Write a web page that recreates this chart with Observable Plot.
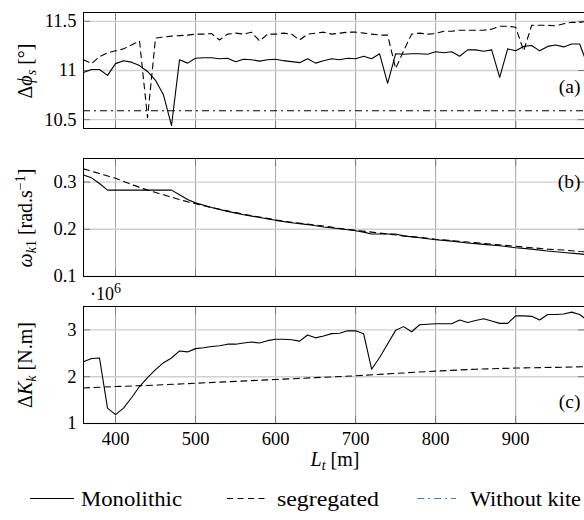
<!DOCTYPE html>
<html><head><meta charset="utf-8">
<script src="https://cdn.jsdelivr.net/npm/d3@7"></script>
<script src="https://cdn.jsdelivr.net/npm/@observablehq/plot@0.6"></script>
<style>
html,body{margin:0;padding:0;background:#fff;overflow:hidden;}
#chart{position:relative;width:584px;height:520px;overflow:hidden;font-family:'Liberation Serif',serif;}
#chart svg{position:absolute;left:0;}
#chart svg, #chart svg text, #chart svg tspan{font-family:'Liberation Serif',serif !important;}
</style></head><body><div id="chart"></div>
<script>
// ---------- data ----------
const L = [360,370,380,390,400,410,420,430,440,450,
           460,470,480,490,500,510,520,530,540,550,
           560,570,580,590,600,610,620,630,640,650,
           660,670,680,690,700,710,720,730,740,750,
           760,770,780,790,800,810,820,830,840,850,
           860,870,880,890,900,910,920,930,940,950,
           960,970,980,990];
const phiMono = [10.98,11.01,11.01,10.95,11.07,11.10,11.085,11.05,10.99,10.90,
                 10.75,10.44,11.11,11.075,11.125,11.13,11.13,11.12,11.125,11.09,
                 11.115,11.11,11.095,11.11,11.115,11.10,11.09,11.08,11.12,11.075,
                 11.10,11.12,11.11,11.125,11.12,11.145,11.12,11.17,10.87,11.17,
                 11.165,11.17,11.17,11.165,11.19,11.18,11.19,11.145,11.21,11.21,
                 11.195,11.21,10.93,11.22,11.20,11.245,11.255,11.20,11.245,11.26,
                 11.24,11.27,11.27,11.05];
const phiSeg = [11.11,11.07,11.14,11.18,11.20,11.22,11.26,11.30,10.52,11.33,
                11.34,11.35,11.355,11.36,11.37,11.37,11.375,11.31,11.37,11.38,
                11.37,11.39,11.30,11.37,11.37,11.38,11.37,11.31,11.37,11.38,
                11.39,11.37,11.38,11.39,11.39,11.38,11.37,11.36,11.36,11.02,
                11.20,11.37,11.38,11.37,11.375,11.40,11.40,11.41,11.41,11.41,
                11.41,11.42,11.45,11.45,11.44,11.20,11.46,11.46,11.46,11.455,
                11.475,11.49,11.49,11.50];
const phiNoKite = [10.59];

const omegaSegL = [360,380,400,420,440,460,480,500,520,540,560,580,600,620,640,660,680,
                   700,720,740,760,780,800,820,840,860,880,900,920,940,960,980,1000];
const omegaSeg = [0.328,0.318,0.308,0.295,0.283,0.273,0.263,0.254,0.246,0.239,0.232,0.226,0.220,0.215,0.211,0.207,0.202,
                  0.198,0.194,0.190,0.186,0.183,0.179,0.176,0.173,0.170,0.167,0.164,0.161,0.158,0.156,0.153,0.151];
const omegaMonoL = [360,370,380,390,470,480,490,500,520,540,560,580,600,620,640,660,680,700,710,720,
                    750,760,780,800,820,840,860,880,900,920,940,960,980,1000];
const omegaMono = [0.315,0.309,0.297,0.283,0.283,0.273,0.263,0.256,0.246,0.238,0.231,0.225,0.219,0.214,0.210,0.205,0.201,0.197,0.194,0.190,
                   0.190,0.186,0.182,0.178,0.175,0.171,0.168,0.165,0.161,0.158,0.154,0.151,0.148,0.144];

const kMono = [2.32,2.39,2.40,1.33,1.19,1.33,1.55,1.79,1.98,2.15,
               2.30,2.40,2.55,2.53,2.60,2.62,2.645,2.66,2.695,2.695,
               2.72,2.74,2.72,2.77,2.80,2.80,2.79,2.76,2.89,2.83,
               2.87,2.92,2.93,2.98,2.98,2.92,2.16,2.41,2.70,2.99,
               3.07,2.96,3.11,3.12,3.13,3.13,3.13,3.21,3.16,3.20,
               3.24,3.19,3.14,3.14,3.30,3.30,3.29,3.21,3.33,3.33,
               3.34,3.38,3.33,3.20];
const kSegL = [360,400,450,500,550,600,650,700,750,800,850,900,950,1000];
const kSeg = [1.76,1.79,1.82,1.86,1.90,1.94,1.98,2.02,2.07,2.12,2.16,2.185,2.20,2.22];

const xTicks = [400,500,600,700,800,900];
const phiTicks = [10.5,11,11.5];
const omegaTicks = [0.1,0.2,0.3];
const kTicks = [1,2,3];
const panelLabels = ["(a)","(b)","(c)"];
const seriesNames = ["Monolithic","segregated","Without kite"];

// ---------- tables ----------
const phiData = L.map((l,i)=>({L:l, mono:phiMono[i], seg:phiSeg[i]}));
const omegaSegData = omegaSegL.map((l,i)=>({L:l, v:omegaSeg[i]}));
const omegaMonoData = omegaMonoL.map((l,i)=>({L:l, v:omegaMono[i]}));
const kMonoData = L.map((l,i)=>({L:l, v:kMono[i]}));
const kSegData = kSegL.map((l,i)=>({L:l, v:kSeg[i]}));

// ---------- styling ----------
const FONT = "Liberation Serif, serif";
const DASH = "6,4.5";
const DASHDOT = "7,4,2,4";
const LW = 1.1;
const xDomain = [360, 986];

function panel({height, top, bottom, yDomain, yTicks, marks, showX, label, labelAnchor, labelDy}) {
  return Plot.plot({
    width: 584, height, marginLeft: 83, marginRight: 0, marginTop: top, marginBottom: bottom,
    style: {fontFamily: FONT, fontSize: "18.5px", background: "transparent", color: "#000", overflow: "visible"},
    x: {domain: xDomain},
    y: {domain: yDomain},
    marks: [
      Plot.gridX(xTicks, {stroke: "#a6a6a6", strokeOpacity: 1, strokeWidth: 1}),
      Plot.gridY(yTicks, {stroke: "#d0d0d0", strokeOpacity: 1, strokeWidth: 1.4}),
      Plot.axisX(xTicks, {anchor: "bottom", tickSize: -7, fill: "none", stroke: "#7a7a7a", label: null}),
      Plot.axisX(xTicks, {anchor: "top", tickSize: -7, fill: "none", stroke: "#7a7a7a", label: null}),
      Plot.axisY(yTicks, {anchor: "left", tickSize: -7, fill: "none", stroke: "#7a7a7a", label: null}),
      Plot.axisY(yTicks, {anchor: "right", tickSize: -7, fill: "none", stroke: "#7a7a7a", label: null}),
      Plot.axisY(yTicks, {anchor: "left", tickSize: 0, tickPadding: 7, label: null, tickFormat: d => String(d)}),
      showX ? Plot.axisX(xTicks, {anchor: "bottom", tickSize: 0, tickPadding: 8, label: null, tickFormat: d => String(d)}) : null,
      ...marks,
      Plot.text([label], {text: d => d, frameAnchor: labelAnchor, dx: -4, dy: labelDy, textAnchor: "end", fontSize: 19.5}),
      Plot.frame({stroke: "#000", strokeWidth: 1})
    ]
  });
}

const chart = document.getElementById("chart");

// Panel (a)
const pa = panel({
  height: 140, top: 12, bottom: 12, yDomain: [10.41, 11.59], yTicks: phiTicks,
  label: panelLabels[0], labelAnchor: "right", labelDy: 16,
  marks: [
    Plot.ruleY(phiNoKite, {stroke: "#000", strokeWidth: LW, strokeDasharray: DASHDOT}),
    Plot.line(phiData, {x: "L", y: "seg", stroke: "#000", strokeWidth: LW, strokeDasharray: DASH, clip: true}),
    Plot.line(phiData, {x: "L", y: "mono", stroke: "#000", strokeWidth: LW, clip: true})
  ]
});
pa.style.top = "0px";
chart.appendChild(pa);

// Panel (b)
const pb = panel({
  height: 146, top: 18, bottom: 10, yDomain: [0.1, 0.35], yTicks: omegaTicks,
  label: panelLabels[1], labelAnchor: "top-right", labelDy: 16,
  marks: [
    Plot.line(omegaSegData, {x: "L", y: "v", stroke: "#000", strokeWidth: LW, strokeDasharray: DASH, clip: true}),
    Plot.line(omegaMonoData, {x: "L", y: "v", stroke: "#000", strokeWidth: LW, clip: true})
  ]
});
pb.style.top = "140px";
chart.appendChild(pb);

// Panel (c)
const pc = panel({
  height: 194, top: 20, bottom: 57, yDomain: [1, 3.5], yTicks: kTicks, showX: true,
  label: panelLabels[2], labelAnchor: "bottom-right", labelDy: -16,
  marks: [
    Plot.line(kSegData, {x: "L", y: "v", stroke: "#000", strokeWidth: LW, strokeDasharray: DASH, clip: true}),
    Plot.line(kMonoData, {x: "L", y: "v", stroke: "#000", strokeWidth: LW, clip: true})
  ]
});
pc.style.top = "286px";
chart.appendChild(pc);

// ---------- rich text labels ----------
function rich(sel, parts) {
  parts.forEach(p => {
    const ts = sel.append("tspan").text(p.t);
    if (p.it) ts.attr("font-style", "italic");
    if (p.sub) ts.attr("baseline-shift", "-4").attr("font-size", 14);
    if (p.sup) ts.attr("baseline-shift", "7").attr("font-size", 14);
  });
}
function yLabel(svg, cy, parts) {
  const t = d3.select(svg).append("text")
    .attr("transform", `translate(32,${cy}) rotate(-90)`)
    .attr("text-anchor", "middle").attr("font-family", FONT).attr("font-size", 20).attr("fill", "#000");
  rich(t, parts);
}
yLabel(pa, 71, [{t: "Δ"}, {t: "ϕ", it: true}, {t: "s", it: true, sub: true}, {t: " [°]"}]);
yLabel(pb, 78, [{t: "ω", it: true}, {t: "k", it: true, sub: true}, {t: "1", sub: true}, {t: " [rad.s"}, {t: "−1", sup: true}, {t: "]"}]);
yLabel(pc, 79, [{t: "Δ"}, {t: "K", it: true}, {t: "k", it: true, sub: true}, {t: " [N.m]"}]);

// x label
const xl = d3.select(pc).append("text")
  .attr("x", 335).attr("y", 180).attr("text-anchor", "middle")
  .attr("font-family", FONT).attr("font-size", 20).attr("fill", "#000");
rich(xl, [{t: "L", it: true}, {t: "t", it: true, sub: true}, {t: " [m]"}]);

// scale multiplier
const sm = d3.select(pc).append("text")
  .attr("x", 90).attr("y", 14).attr("text-anchor", "start")
  .attr("font-family", FONT).attr("font-size", 18).attr("fill", "#000");
rich(sm, [{t: "·10"}, {t: "6", sup: true}]);

// ---------- legend ----------
const leg = d3.select(chart).append("svg")
  .attr("width", 584).attr("height", 42).style("top", "478px");
const legendItems = [
  {name: seriesNames[0], x1: 30, x2: 74, tx: 81, w: 101, stroke: "#000", dash: null},
  {name: seriesNames[1], x1: 227, x2: 268, tx: 277, w: 102, stroke: "#000", dash: DASH},
  {name: seriesNames[2], x1: 417, x2: 456, tx: 470, w: 111, stroke: "#3f82c4", dash: DASHDOT}
];
legendItems.forEach(it => {
  leg.append("line").attr("x1", it.x1).attr("x2", it.x2).attr("y1", 20.5).attr("y2", 20.5)
    .attr("stroke", it.stroke).attr("stroke-width", LW).attr("stroke-dasharray", it.dash);
  leg.append("text").attr("x", it.tx).attr("y", 27.5).attr("font-family", FONT).attr("font-size", 22)
    .attr("textLength", it.w).attr("lengthAdjust", "spacingAndGlyphs")
    .attr("fill", "#000").text(it.name);
});
</script>
</body></html>
